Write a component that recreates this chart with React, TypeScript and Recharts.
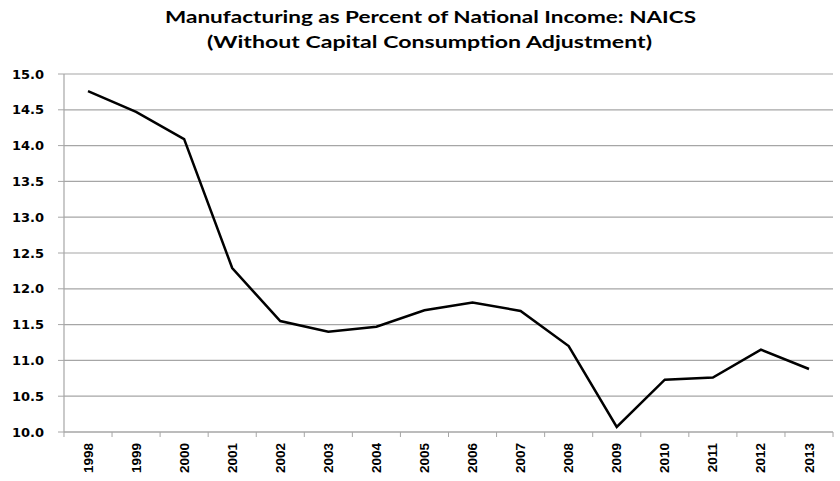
import React from 'react';
import { LineChart, Line, XAxis, YAxis, CartesianGrid } from 'recharts';

const years = ['1998', '1999', '2000', '2001', '2002', '2003', '2004', '2005', '2006', '2007', '2008', '2009', '2010', '2011', '2012', '2013'];
const values = [14.76, 14.47, 14.09, 12.29, 11.55, 11.40, 11.47, 11.70, 11.81, 11.69, 11.20, 10.07, 10.73, 10.76, 11.15, 10.88];
const yTicks = [10.0, 10.5, 11.0, 11.5, 12.0, 12.5, 13.0, 13.5, 14.0, 14.5, 15.0];
const titleLines = ['Manufacturing as Percent of National Income: NAICS', '(Without Capital Consumption Adjustment)'];

const data = years.map((year, i) => ({ year, value: values[i] }));

const HALF = 24.03;
const GRID = '#a6a6a6';

const XTick = (props: any) => {
  const { x, y, payload, index } = props;
  const last = index === years.length - 1;
  return (
    <g>
      <line x1={x - HALF} y1={y} x2={x - HALF} y2={y + 5} stroke={GRID} strokeWidth={1} />
      {last && <line x1={x + HALF} y1={y} x2={x + HALF} y2={y + 5} stroke={GRID} strokeWidth={1} />}
      <text
        x={x + 4.5}
        y={y + 11}
        transform={`rotate(-90, ${x + 4.5}, ${y + 11})`}
        textAnchor="end"
        fontFamily="'Liberation Sans', Arial, sans-serif"
        fontWeight="bold"
        fontSize={13.5}
        fill="#000"
      >
        {payload.value}
      </text>
    </g>
  );
};

export default function App() {
  return (
    <div style={{ position: 'absolute', left: 0, top: 0, width: 840, height: 481, background: '#fff' }}>
      <svg width={840} height={70} style={{ position: 'absolute', left: 0, top: 0 }}>
        <text x={165} y={23} textLength={531} lengthAdjust="spacingAndGlyphs" fontFamily="Lato, sans-serif" fontWeight="bold" fontSize={17.5} fill="#000">
          {titleLines[0]}
        </text>
        <text x={207} y={48} textLength={445} lengthAdjust="spacingAndGlyphs" fontFamily="Lato, sans-serif" fontWeight="bold" fontSize={17.5} fill="#000">
          {titleLines[1]}
        </text>
      </svg>
      <div style={{ position: 'absolute', left: 0, top: 0 }}>
        <LineChart width={840} height={481} data={data} margin={{ top: 74, right: 7, bottom: 0, left: 0 }}>
          <CartesianGrid horizontal vertical={false} stroke={GRID} strokeWidth={1.2} />
          <XAxis
            dataKey="year"
            padding={{ left: 24, right: 24 }}
            height={49}
            interval={0}
            tickLine={false}
            tickSize={0}
            tickMargin={0}
            axisLine={{ stroke: GRID, strokeWidth: 1.2 }}
            tick={<XTick />}
          />
          <YAxis
            width={64}
            domain={[10, 15]}
            ticks={yTicks}
            interval={0}
            tickFormatter={(v: number) => v.toFixed(1)}
            tickSize={6}
            tickMargin={14}
            tickLine={{ stroke: GRID }}
            axisLine={{ stroke: GRID, strokeWidth: 1.2 }}
            tick={{ fill: '#000', fontFamily: "'DejaVu Sans', Verdana, sans-serif", fontWeight: 'bold', fontSize: 13 }}
          />
          <Line type="linear" dataKey="value" stroke="#000" strokeWidth={2.5} dot={false} isAnimationActive={false} />
        </LineChart>
      </div>
    </div>
  );
}
